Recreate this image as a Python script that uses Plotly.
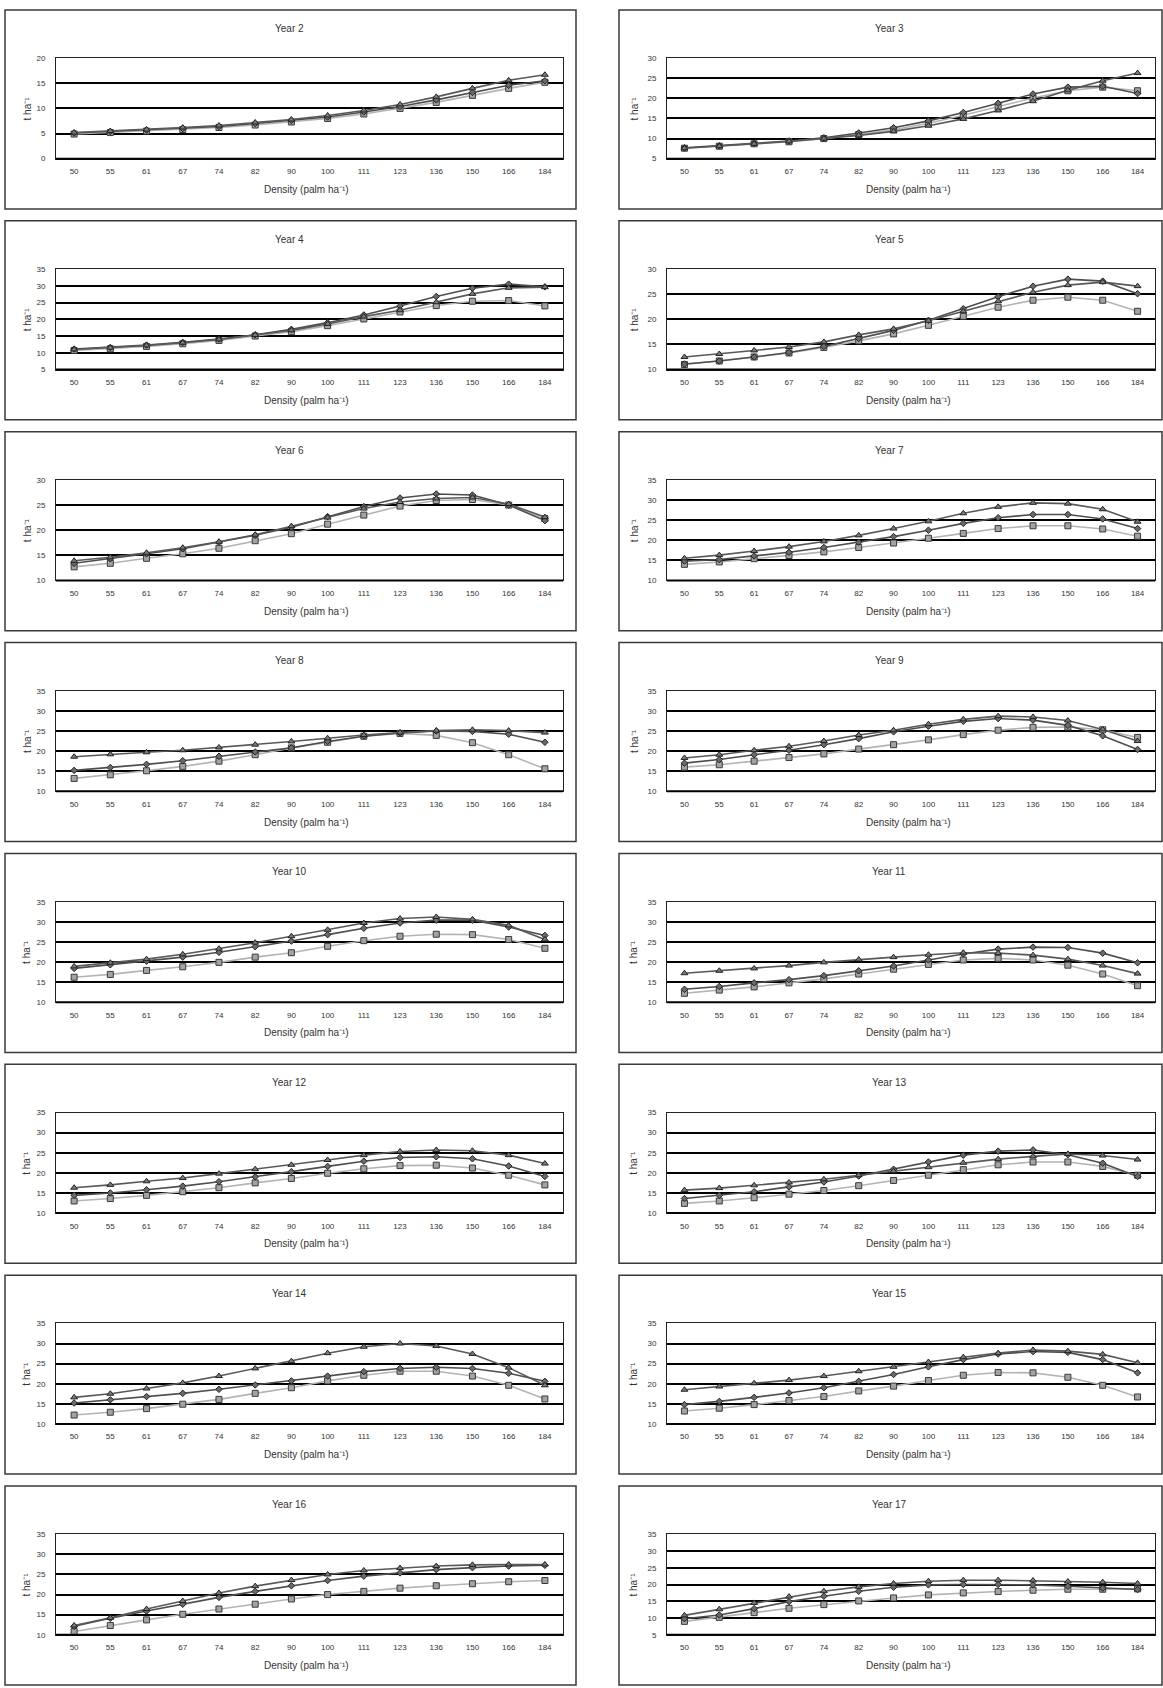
import plotly.graph_objects as go

# ---------------- data ----------------
densities = ["50", "55", "61", "67", "74", "82", "90", "100", "111", "123", "136", "150", "166", "184"]
years = [2, 3, 4, 5, 6, 7, 8, 9, 10, 11, 12, 13, 14, 15, 16, 17]
y_min = [0, 5, 5, 10, 10, 10, 10, 10, 10, 10, 10, 10, 10, 10, 10, 5]
y_max = [20, 30, 35, 30, 30, 35, 35, 35, 35, 35, 35, 35, 35, 35, 35, 35]

y2_tri = [5.2, 5.5, 5.8, 6.2, 6.6, 7.2, 7.8, 8.6, 9.6, 10.8, 12.3, 14.0, 15.6, 16.7]
y2_dia = [5.1, 5.4, 5.7, 6.0, 6.4, 7.0, 7.6, 8.3, 9.3, 10.4, 11.7, 13.2, 14.6, 15.5]
y2_sq = [4.9, 5.2, 5.5, 5.8, 6.2, 6.7, 7.3, 8.0, 8.9, 10.0, 11.2, 12.6, 14.0, 15.2]

y3_tri = [7.6, 8.1, 8.7, 9.3, 10.0, 10.8, 11.8, 13.2, 14.9, 17.0, 19.3, 22.0, 24.4, 26.3]
y3_dia = [7.7, 8.2, 8.8, 9.4, 10.2, 11.4, 12.7, 14.4, 16.5, 18.8, 21.1, 22.8, 23.0, 21.2]
y3_sq = [7.6, 8.1, 8.7, 9.2, 10.0, 11.0, 12.2, 13.8, 15.8, 17.9, 20.1, 21.9, 22.8, 21.9]

y4_tri = [11.0, 11.5, 12.2, 13.0, 14.0, 15.3, 16.7, 18.6, 20.8, 22.7, 25.1, 27.6, 29.4, 29.6]
y4_dia = [11.1, 11.6, 12.3, 13.1, 14.1, 15.4, 17.0, 19.0, 21.3, 24.0, 26.8, 29.3, 30.5, 29.7]
y4_sq = [10.7, 11.2, 11.9, 12.7, 13.7, 15.0, 16.3, 18.1, 20.1, 22.2, 24.1, 25.4, 25.6, 24.0]

y5_tri = [12.5, 13.1, 13.8, 14.5, 15.5, 16.9, 18.1, 19.7, 21.6, 23.6, 25.4, 26.8, 27.4, 26.6]
y5_dia = [11.1, 11.7, 12.5, 13.4, 14.6, 16.2, 17.8, 19.8, 22.1, 24.5, 26.6, 28.0, 27.6, 25.1]
y5_sq = [11.0, 11.7, 12.5, 13.3, 14.4, 15.7, 17.1, 18.8, 20.6, 22.4, 23.8, 24.4, 23.8, 21.6]

y6_tri = [13.9, 14.6, 15.5, 16.5, 17.7, 19.1, 20.8, 22.5, 24.3, 25.6, 26.3, 26.5, 25.2, 22.6]
y6_dia = [13.4, 14.3, 15.3, 16.3, 17.6, 19.0, 20.6, 22.7, 24.7, 26.4, 27.2, 27.0, 25.0, 21.9]
y6_sq = [12.7, 13.4, 14.4, 15.3, 16.4, 17.9, 19.3, 21.2, 23.0, 24.8, 25.9, 26.1, 25.0, 22.3]

y7_tri = [15.5, 16.3, 17.3, 18.4, 19.7, 21.2, 22.9, 24.7, 26.7, 28.3, 29.3, 29.1, 27.7, 24.6]
y7_dia = [14.8, 15.2, 16.1, 17.0, 18.2, 19.5, 20.9, 22.5, 24.2, 25.6, 26.4, 26.4, 25.3, 22.9]
y7_sq = [14.0, 14.6, 15.4, 16.2, 17.1, 18.2, 19.3, 20.5, 21.7, 22.9, 23.6, 23.6, 22.8, 21.0]

y8_tri = [18.6, 19.2, 19.7, 20.2, 20.9, 21.6, 22.4, 23.2, 24.0, 24.6, 25.1, 25.3, 25.1, 24.6]
y8_dia = [15.2, 15.9, 16.7, 17.6, 18.7, 19.8, 20.8, 22.4, 23.7, 24.5, 25.0, 24.9, 24.2, 22.2]
y8_sq = [13.2, 14.1, 15.1, 16.2, 17.5, 19.1, 20.8, 22.2, 23.7, 24.4, 23.9, 22.1, 19.1, 15.6]

y9_tri = [18.3, 19.1, 20.2, 21.2, 22.5, 24.0, 25.2, 26.7, 27.9, 28.7, 28.5, 27.6, 25.4, 22.5]
y9_dia = [17.0, 17.9, 19.1, 20.2, 21.6, 23.1, 24.8, 26.2, 27.4, 28.1, 27.7, 26.4, 23.8, 20.4]
y9_sq = [16.0, 16.6, 17.5, 18.4, 19.3, 20.5, 21.6, 22.8, 24.1, 25.2, 25.9, 26.0, 25.3, 23.4]

y10_tri = [18.9, 19.8, 20.7, 21.9, 23.3, 24.8, 26.4, 28.0, 29.7, 30.8, 31.2, 30.6, 29.1, 25.6]
y10_dia = [18.4, 19.3, 20.2, 21.2, 22.4, 23.8, 25.2, 26.8, 28.4, 29.7, 30.4, 30.4, 28.7, 26.6]
y10_sq = [16.2, 16.9, 17.9, 18.8, 19.9, 21.2, 22.3, 23.9, 25.3, 26.4, 26.9, 26.8, 25.6, 23.4]

y11_tri = [17.2, 17.8, 18.4, 19.1, 19.9, 20.6, 21.2, 21.8, 22.3, 22.2, 21.7, 20.7, 19.1, 17.1]
y11_dia = [13.2, 13.9, 14.8, 15.6, 16.6, 17.8, 19.0, 20.5, 22.0, 23.2, 23.7, 23.6, 22.2, 19.8]
y11_sq = [12.2, 13.0, 13.8, 14.8, 15.8, 17.0, 18.2, 19.4, 20.5, 20.9, 20.5, 19.2, 17.0, 14.1]

y12_tri = [16.3, 17.0, 17.9, 18.7, 19.8, 20.9, 22.0, 23.2, 24.4, 25.3, 25.7, 25.5, 24.4, 22.3]
y12_dia = [14.4, 15.0, 15.8, 16.7, 17.8, 19.0, 20.3, 21.6, 22.9, 23.8, 24.0, 23.5, 21.7, 19.1]
y12_sq = [13.0, 13.6, 14.4, 15.3, 16.3, 17.5, 18.6, 19.9, 21.0, 21.8, 21.9, 21.2, 19.4, 17.0]

y13_tri = [15.7, 16.2, 16.9, 17.6, 18.4, 19.4, 20.4, 21.4, 22.5, 23.4, 24.1, 24.7, 24.3, 23.3]
y13_dia = [13.6, 14.4, 15.3, 16.5, 17.7, 19.2, 20.9, 22.7, 24.4, 25.4, 25.7, 24.5, 22.4, 19.1]
y13_sq = [12.4, 13.0, 13.8, 14.7, 15.6, 16.8, 18.1, 19.4, 20.8, 22.0, 22.7, 22.7, 21.6, 19.4]

y14_tri = [16.6, 17.5, 18.8, 20.2, 21.9, 23.8, 25.6, 27.6, 29.2, 30.0, 29.4, 27.4, 24.0, 19.6]
y14_dia = [15.2, 16.0, 16.8, 17.6, 18.6, 19.7, 20.7, 21.9, 23.0, 23.8, 24.1, 23.8, 22.6, 20.6]
y14_sq = [12.2, 12.9, 13.8, 14.9, 16.1, 17.6, 19.0, 20.7, 22.1, 23.1, 23.1, 21.9, 19.6, 16.2]

y15_tri = [18.5, 19.3, 20.1, 20.9, 21.9, 23.1, 24.2, 25.4, 26.6, 27.6, 28.4, 28.1, 27.3, 25.2]
y15_dia = [14.8, 15.6, 16.6, 17.7, 19.0, 20.6, 22.3, 24.2, 26.0, 27.4, 28.0, 27.8, 26.0, 22.7]
y15_sq = [13.2, 13.9, 14.8, 15.8, 16.8, 18.2, 19.4, 20.8, 22.1, 22.8, 22.7, 21.6, 19.6, 16.7]

y16_tri = [12.3, 14.2, 16.4, 18.4, 20.4, 22.1, 23.6, 25.0, 26.0, 26.6, 27.1, 27.4, 27.5, 27.5]
y16_dia = [12.1, 14.1, 15.9, 17.6, 19.3, 20.8, 22.2, 23.5, 24.6, 25.4, 26.2, 26.7, 27.1, 27.3]
y16_sq = [10.8, 12.3, 13.7, 15.1, 16.4, 17.6, 18.9, 20.0, 20.8, 21.6, 22.2, 22.7, 23.2, 23.5]

y17_tri = [10.8, 12.6, 14.5, 16.4, 18.0, 19.3, 20.3, 21.0, 21.3, 21.3, 21.2, 20.9, 20.7, 20.3]
y17_dia = [9.8, 10.9, 12.8, 14.9, 16.5, 18.0, 19.2, 19.9, 20.0, 20.0, 19.9, 19.5, 18.9, 18.5]
y17_sq = [9.0, 10.2, 11.6, 12.9, 14.0, 15.1, 16.0, 16.9, 17.5, 17.9, 18.3, 18.6, 18.6, 18.7]

tri_series = [y2_tri, y3_tri, y4_tri, y5_tri, y6_tri, y7_tri, y8_tri, y9_tri,
              y10_tri, y11_tri, y12_tri, y13_tri, y14_tri, y15_tri, y16_tri, y17_tri]
dia_series = [y2_dia, y3_dia, y4_dia, y5_dia, y6_dia, y7_dia, y8_dia, y9_dia,
              y10_dia, y11_dia, y12_dia, y13_dia, y14_dia, y15_dia, y16_dia, y17_dia]
sq_series = [y2_sq, y3_sq, y4_sq, y5_sq, y6_sq, y7_sq, y8_sq, y9_sq,
             y10_sq, y11_sq, y12_sq, y13_sq, y14_sq, y15_sq, y16_sq, y17_sq]

x_title = "Density (palm ha\u207b\u00b9)"
y_title = "t ha\u207b\u00b9"

# ---------------- layout geometry ----------------
W, H = 1163, 1688
FONT = "Liberation Sans, Arial, sans-serif"
TXT = "#333333"

def px(x):
    return x / W

def py(y):
    return 1 - y / H

fig = go.Figure()
shapes = []
annotations = []
layout_axes = {}

for idx, year in enumerate(years):
    row, col = idx // 2, idx % 2
    n = idx + 1
    xa = "x" if n == 1 else f"x{n}"
    ya = "y" if n == 1 else f"y{n}"
    xkey = "xaxis" if n == 1 else f"xaxis{n}"
    ykey = "yaxis" if n == 1 else f"yaxis{n}"

    box_top = 6 + 212 * row
    box_bot = box_top + 200
    if col == 0:
        bx0, bx1 = 5, 576
        plx0, plx1 = 56, 563
        title_x = 289
        ytitle_x = 27
    else:
        bx0, bx1 = 619, 1162
        plx0, plx1 = 667, 1155
        title_x = 889
        ytitle_x = 634
    ply0, ply1 = box_top + 48.5, box_top + 149.5

    # panel frame
    shapes.append(dict(type="rect", xref="paper", yref="paper",
                       x0=px(bx0), x1=px(bx1), y0=py(box_bot), y1=py(box_top),
                       line=dict(color="#3a3a3a", width=1.5), layer="below"))

    layout_axes[xkey] = dict(
        domain=[px(plx0), px(plx1)], anchor=ya, type="category",
        categoryorder="array", categoryarray=densities,
        range=[-0.5, 13.5], showgrid=False, zeroline=False,
        showline=True, linecolor="#222222", linewidth=1, mirror=True,
        ticks="", ticklabelstandoff=5,
        tickfont=dict(family=FONT, size=8, color=TXT), fixedrange=True,
    )
    layout_axes[ykey] = dict(
        domain=[py(ply1), py(ply0)], anchor=xa,
        range=[y_min[idx], y_max[idx]], dtick=5, tick0=0,
        showgrid=True, gridcolor="#000000", gridwidth=1.5, zeroline=False,
        showline=True, linecolor="#222222", linewidth=1, mirror=True,
        ticks="", ticklabelstandoff=8,
        tickfont=dict(family=FONT, size=8, color=TXT), fixedrange=True,
    )

    # thick bottom axis line
    shapes.append(dict(type="line", xref=f"{xa} domain", yref=f"{ya} domain",
                       x0=0, x1=1, y0=0, y1=0, line=dict(color="#000000", width=2)))

    annotations.append(dict(text=f"Year {year}", xref="paper", yref="paper",
                            x=px(title_x), y=py(box_top + 18.5), showarrow=False,
                            xanchor="center", yanchor="middle",
                            font=dict(family=FONT, size=10, color=TXT)))
    annotations.append(dict(text=x_title, xref="paper", yref="paper",
                            x=px((plx0 + plx1) / 2 - 3), y=py(box_top + 180.5), showarrow=False,
                            xanchor="center", yanchor="middle",
                            font=dict(family=FONT, size=10, color=TXT)))
    annotations.append(dict(text=y_title, xref="paper", yref="paper",
                            x=px(ytitle_x), y=py((ply0 + ply1) / 2), showarrow=False,
                            textangle=-90, xanchor="center", yanchor="middle",
                            font=dict(family=FONT, size=10, color=TXT)))

    fig.add_trace(go.Scatter(
        x=densities, y=sq_series[idx], xaxis=xa, yaxis=ya, mode="lines+markers",
        line=dict(color="#b4b4b4", width=1.6),
        marker=dict(symbol="square", size=6, color="#a3a3a3",
                    line=dict(color="#3a3a3a", width=1)),
        showlegend=False, hoverinfo="skip"))
    fig.add_trace(go.Scatter(
        x=densities, y=dia_series[idx], xaxis=xa, yaxis=ya, mode="lines+markers",
        line=dict(color="#4e4e4e", width=1.6),
        marker=dict(symbol="diamond", size=5, color="#6a6a6a",
                    line=dict(color="#222222", width=1)),
        showlegend=False, hoverinfo="skip"))
    fig.add_trace(go.Scatter(
        x=densities, y=tri_series[idx], xaxis=xa, yaxis=ya, mode="lines+markers",
        line=dict(color="#595959", width=1.6),
        marker=dict(symbol="triangle-up", size=6, color="#7a7a7a",
                    line=dict(color="#222222", width=1)),
        showlegend=False, hoverinfo="skip"))

fig.update_layout(
    width=W, height=H,
    margin=dict(l=0, r=0, t=0, b=0),
    paper_bgcolor="white", plot_bgcolor="white",
    shapes=shapes, annotations=annotations,
    showlegend=False,
    **layout_axes,
)

fig.write_html("out.html", config={"displayModeBar": False})
